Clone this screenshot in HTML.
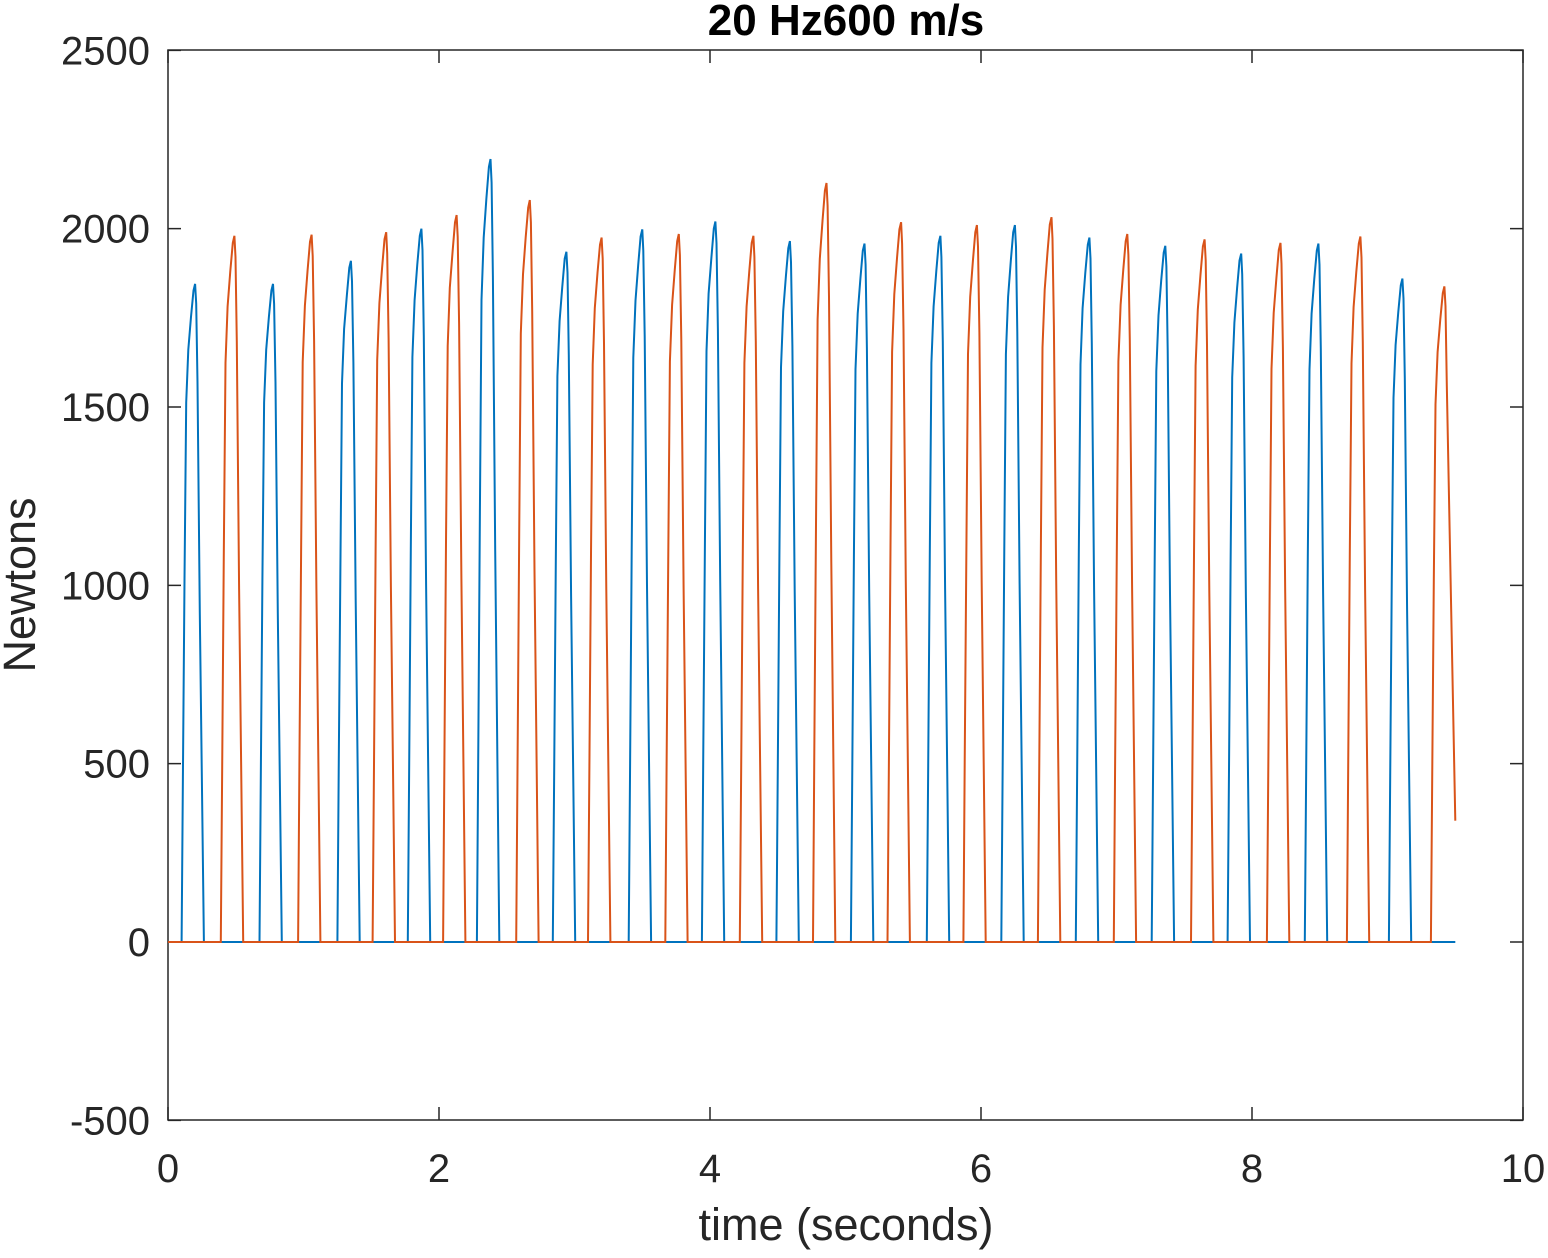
<!DOCTYPE html>
<html><head><meta charset="utf-8"><style>
body{margin:0;background:#fff}
svg text{font-family:"Liberation Sans",Arial,sans-serif;fill:#262626}
</style></head><body>
<svg width="1548" height="1253" viewBox="0 0 1548 1253" id="chart">
<rect x="0" y="0" width="1548" height="1253" fill="#fff"/>
<rect x="168" y="50" width="1355" height="1070" fill="#fff" stroke="#262626" stroke-width="1.5"/>
<g id="ticks"></g>
<g id="series"></g>
<text x="846" y="35" text-anchor="middle" font-size="44" font-weight="bold" style="fill:#000">20 Hz600 m/s</text>
<text x="846" y="1240" text-anchor="middle" font-size="45">time (seconds)</text>
<text transform="translate(35,585) rotate(-90)" text-anchor="middle" font-size="45">Newtons</text>
</svg>
<script>
const xTicks=[0,2,4,6,8,10];
const yTicks=[-500,0,500,1000,1500,2000,2500];
const bluePeakTimes=[0.20,0.775,1.35,1.87,2.38,2.94,3.50,4.04,4.59,5.14,5.70,6.25,6.80,7.36,7.92,8.49,9.11];
const bluePeakValues=[1845,1845,1910,2000,2195,1935,1998,2020,1965,1958,1980,2010,1975,1952,1930,1958,1860];
const orangePeakTimes=[0.49,1.06,1.61,2.13,2.67,3.20,3.77,4.32,4.86,5.41,5.97,6.52,7.08,7.65,8.21,8.80,9.42];
const orangePeakValues=[1980,1983,1990,2038,2080,1975,1985,1980,2128,2018,2010,2032,1985,1970,1960,1978,1838];
const endTime=9.5, startTime=0, orangeEndValue=340;
const X=t=>168+t*135.5;
const Y=v=>942-v*0.35667;
const NS='http://www.w3.org/2000/svg';
const tg=document.getElementById('ticks');
xTicks.forEach(t=>{
  const x=X(t);
  const l=document.createElementNS(NS,'path');
  l.setAttribute('d',`M${x},1120v-13M${x},50v13`);l.setAttribute('stroke','#262626');l.setAttribute('stroke-width','1.5');
  
  
  tg.appendChild(l);
  const tx=document.createElementNS(NS,'text');
  tx.setAttribute('x',x);tx.setAttribute('y',1182);tx.setAttribute('text-anchor','middle');tx.setAttribute('font-size','40');
  tx.textContent=t;
  
  
  tg.appendChild(tx);
});
yTicks.forEach(v=>{
  const y=Y(v);
  const l=document.createElementNS(NS,'path');
  l.setAttribute('d',`M168,${y}h13M1523,${y}h-13`);l.setAttribute('stroke','#262626');l.setAttribute('stroke-width','1.5');
  
  
  tg.appendChild(l);
  const tx=document.createElementNS(NS,'text');
  tx.setAttribute('x',150);tx.setAttribute('y',y+14);tx.setAttribute('text-anchor','end');tx.setAttribute('font-size','40');
  tx.textContent=v;
  
  
  tg.appendChild(tx);
});
const shape=[[-0.1,0],[-0.09,0.25],[-0.078,0.55],[-0.066,0.82],[-0.05,0.9],[-0.03,0.95],[-0.012,0.99],[0,1],[0.008,0.97],[0.018,0.85],[0.035,0.5],[0.065,0]];
function buildPath(times,vals,lastVal){
  let pts=[[startTime,0]];
  const limit = lastVal!==null ? endTime-0.06 : endTime;
  times.forEach((t,i)=>{
    shape.forEach(([dt,f])=>{
      const tt=t+dt;
      if(tt<=limit) pts.push([tt,vals[i]*f]);
    });
  });
  if(lastVal!==null) pts.push([endTime,lastVal]); else pts.push([endTime,0]);
  return 'M'+pts.map(p=>X(p[0]).toFixed(1)+','+Y(p[1]).toFixed(1)).join('L');
}
const sg=document.getElementById('series');
const pb=document.createElementNS(NS,'path');
pb.setAttribute('d',buildPath(bluePeakTimes,bluePeakValues,null));
pb.setAttribute('fill','none');pb.setAttribute('stroke','#0072BD');pb.setAttribute('stroke-width','2');


sg.appendChild(pb);
const po=document.createElementNS(NS,'path');
po.setAttribute('d',buildPath(orangePeakTimes,orangePeakValues,orangeEndValue));
po.setAttribute('fill','none');po.setAttribute('stroke','#D95319');po.setAttribute('stroke-width','2');


sg.appendChild(po);
</script>
</body></html>
